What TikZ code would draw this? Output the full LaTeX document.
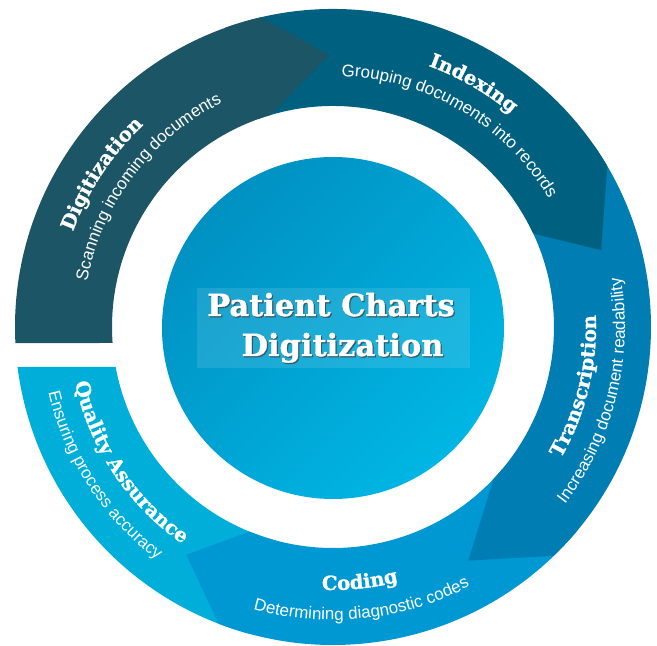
\documentclass[tikz,border=0pt]{standalone}
\usepackage{fontspec}
\setmainfont{Liberation Sans}
\newfontfamily\slabfont{DejaVu Serif}[BoldFeatures={FakeBold=1.2}]
\usetikzlibrary{decorations.text}

\definecolor{digitcol}{RGB}{28,85,102}
\definecolor{indexcol}{RGB}{0,96,128}
\definecolor{transcol}{RGB}{0,125,179}
\definecolor{codecol}{RGB}{0,152,211}
\definecolor{qualcol}{RGB}{0,175,217}
\definecolor{hubtop}{RGB}{0,145,194}
\definecolor{hubbot}{RGB}{0,182,228}

\newcommand{\stagefont}{\slabfont\bfseries\fontsize{19.5}{19.5}\selectfont}
\newcommand{\notefont}{\fontsize{17}{17}\selectfont}

% curved label: start angle, end angle, radius, font, text
\newcommand{\arclabel}[5]{%
  \path[decorate,decoration={text along path,text={|#4|#5},text align=center,text color=white}]
    (#1:#3) arc[start angle=#1,end angle=#2,radius=#3];}

\begin{document}
\begin{tikzpicture}[x=1pt,y=1pt,
    titletext/.style={font=\slabfont\bfseries\fontsize{30.5}{30.5}\selectfont,text=white,inner sep=0pt,anchor=base},
    titleshadow/.style={titletext,text=black!75,opacity=.7}]
  \useasboundingbox (0,0) rectangle (657,646);
  \begin{scope}[shift={(333,319)}]
    % ring segments, each tip drawn over the next one
    \fill[qualcol] (255:318) arc[start angle=255,end angle=187.2,radius=318]
      -- (190.4:221) arc[start angle=190.4,end angle=255,radius=221] -- cycle;       % Quality Assurance
    \fill[codecol] (-40:318) arc[start angle=-40,end angle=-111.1,radius=318]
      -- (-122.8:271) -- (-112.2:221) arc[start angle=-112.2,end angle=-40,radius=221] -- cycle;   % Coding
    \fill[transcol] (35:318) arc[start angle=35,end angle=-46,radius=318]
      -- (-59.9:270) -- (-43.4:221) arc[start angle=-43.4,end angle=35,radius=221] -- cycle;    % Transcription
    \fill[indexcol] (110:318) arc[start angle=110,end angle=30.4,radius=318]
      -- (16:279) -- (25:221) arc[start angle=25,end angle=110,radius=221] -- cycle;          % Indexing
    \fill[digitcol] (182.9:318) arc[start angle=182.9,end angle=103.1,radius=318]
      -- (90.8:272) -- (106.5:221) arc[start angle=106.5,end angle=184.15,radius=221] -- cycle;  % Digitization

    % centre disc and title
    \shade[top color=hubtop,bottom color=hubbot,shading angle=45] (0,-1) circle[radius=171];
    \fill[white,opacity=.11] (-136,-41) rectangle (137,39);
    \node[titleshadow] (titleAs) at (-0.8,9.8) {Patient Charts};
    \node[titletext]   (titleA)  at (-2,11)    {Patient Charts};
    \node[titleshadow] (titleBs) at (10.7,-30.2) {Digitization};
    \node[titletext]   (titleB)  at (9.5,-29)    {Digitization};

    % stage labels
    \arclabel{186.5}{106.5}{277}{\stagefont}{Digitization}
    \arclabel{182.9}{102.9}{250}{\notefont}{Scanning incoming documents}
    \arclabel{100}{20}{278}{\stagefont}{Indexing}
    \arclabel{99.4}{19.4}{251}{\notefont}{Grouping documents into records}
    \arclabel{-53.7}{26.3}{263}{\stagefont}{Transcription}
    \arclabel{-53.8}{26.2}{292}{\notefont}{Increasing document readability}
    \arclabel{-124}{-44}{263}{\stagefont}{Coding}
    \arclabel{-124}{-44}{293}{\notefont}{Determining diagnostic codes}
    \arclabel{173.7}{253.7}{264}{\stagefont}{Quality Assurance}
    \arclabel{172.9}{252.9}{292}{\notefont}{Ensuring process accuracy}
  \end{scope}
\end{tikzpicture}
\end{document}
